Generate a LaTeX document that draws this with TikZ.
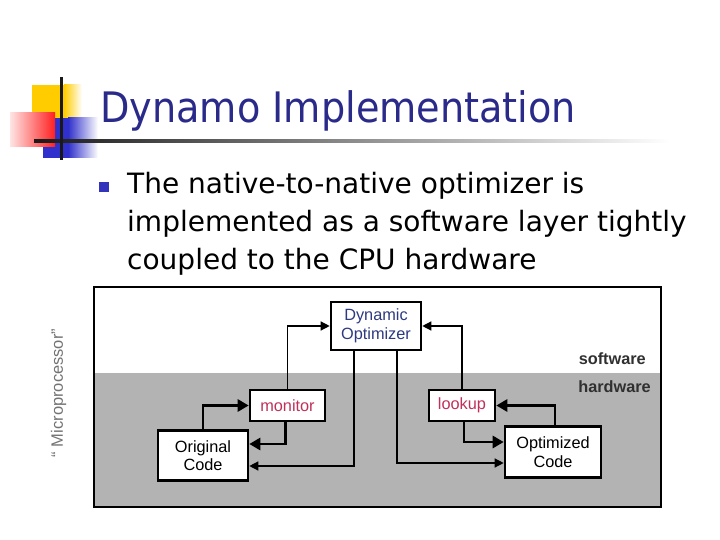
\documentclass[tikz,border=0pt]{standalone}
\usepackage{fontspec}
\setmainfont{Liberation Sans}
\newfontfamily\titlefont[FakeStretch=0.91]{DejaVu Sans}
\newfontfamily\bodyfont{DejaVu Sans}
\usetikzlibrary{arrows.meta}
\definecolor{titleblue}{HTML}{2A2A8A}
\definecolor{bulletblue}{HTML}{3333BB}
\definecolor{logoyellow}{HTML}{FFCC00}
\definecolor{logoblue}{HTML}{3030CC}
\definecolor{logored}{HTML}{FF2020}
\definecolor{hwgray}{HTML}{B3B3B3}
\definecolor{optblue}{HTML}{2E3A80}
\definecolor{hwred}{HTML}{C0305A}
\definecolor{labgray}{HTML}{303030}
\tikzset{
  box/.style={draw=black, line width=2.6pt, fill=white, inner sep=0pt, align=center, font=\fontsize{16.3}{18.5}\selectfont},
  thinarrow/.style={line width=1.3pt, -{Triangle[length=9pt,width=9pt]}},
  thickarrow/.style={line width=2.8pt, -{Triangle[length=11pt,width=12pt]}},
  sidelabel/.style={font=\bfseries\fontsize{16.3}{18}\selectfont, text=labgray, inner sep=0pt}
}
\begin{document}
\begin{tikzpicture}[x=1pt,y=-1pt]
\useasboundingbox (0,0) rectangle (720,540);
% logo
\fill[logoyellow] (32,85) rectangle (64,118);
\shade[left color=logoyellow, right color=white] (64,85) rectangle (82,118);
\fill[logoblue] (43,118) rectangle (68,158);
\shade[left color=logoblue, right color=white] (68,118) rectangle (98,158);
\shade[left color=logored!12, right color=logored] (10,113) rectangle (55,147);
\shade[left color=black!90, right color=white] (34,139.8) rectangle (670,142.4);
\fill[black!90] (59.5,77) rectangle (62.5,160);
% title
\node[anchor=base west, inner sep=0pt, text=titleblue, font=\titlefont\fontsize{42}{48}\selectfont] (title) at (100,123) {Dynamo Implementation};
% bullet
\fill[bulletblue] (99,182) rectangle (109,192);
\node[anchor=base west, inner sep=0pt, align=left, font=\bodyfont\fontsize{28}{38}\selectfont] (body) at (127,269) {The native-to-native optimizer is\\implemented as a software layer tightly\\coupled to the CPU hardware};
% frame
\fill[hwgray] (94,373) rectangle (661,507);
\draw[line width=1.2pt] (94,287) rectangle (661,507);
\node[rotate=90, text=black!55, font=\fontsize{16.5}{18}\selectfont, inner sep=0pt] (micro) at (58.5,393) {“ Microprocessor”};
\node[sidelabel, anchor=base east] (sw) at (646,364) {software};
\node[sidelabel, anchor=base east] (hw) at (651,392) {hardware};
% boxes
\node[box, minimum width=90pt, minimum height=48pt, text=optblue] (dyn) at (376,326) {Dynamic\\Optimizer};
\node[box, minimum width=75pt, minimum height=31pt, text=hwred] (mon) at (287.5,405.5) {monitor};
\node[box, minimum width=66pt, minimum height=31pt, text=hwred] (look) at (462,405.5) {lookup};
\node[box, minimum width=90pt, minimum height=50pt] (orig) at (203,455.5) {Original\\Code};
\node[box, minimum width=96pt, minimum height=51pt] (opt) at (553,452) {Optimized\\Code};
% connectors
\draw[thinarrow] (mon.north) |- (dyn.west);
\draw[thinarrow] (look.north) |- (dyn.east);
\draw[thinarrow] ([xshift=-22pt]dyn.south) |- ([yshift=-10.5pt]orig.east);
\draw[thinarrow] ([xshift=21pt]dyn.south) |- ([yshift=-11pt]opt.west);
\draw[thickarrow] (orig.north) |- (mon.west);
\draw[thickarrow] ([xshift=-2pt]mon.south) |- ([yshift=11.5pt]orig.east);
\draw[thickarrow] ([xshift=2pt]look.south) |- ([yshift=10pt]opt.west);
\draw[thickarrow] ([xshift=2pt]opt.north) |- (look.east);
\end{tikzpicture}
\end{document}
